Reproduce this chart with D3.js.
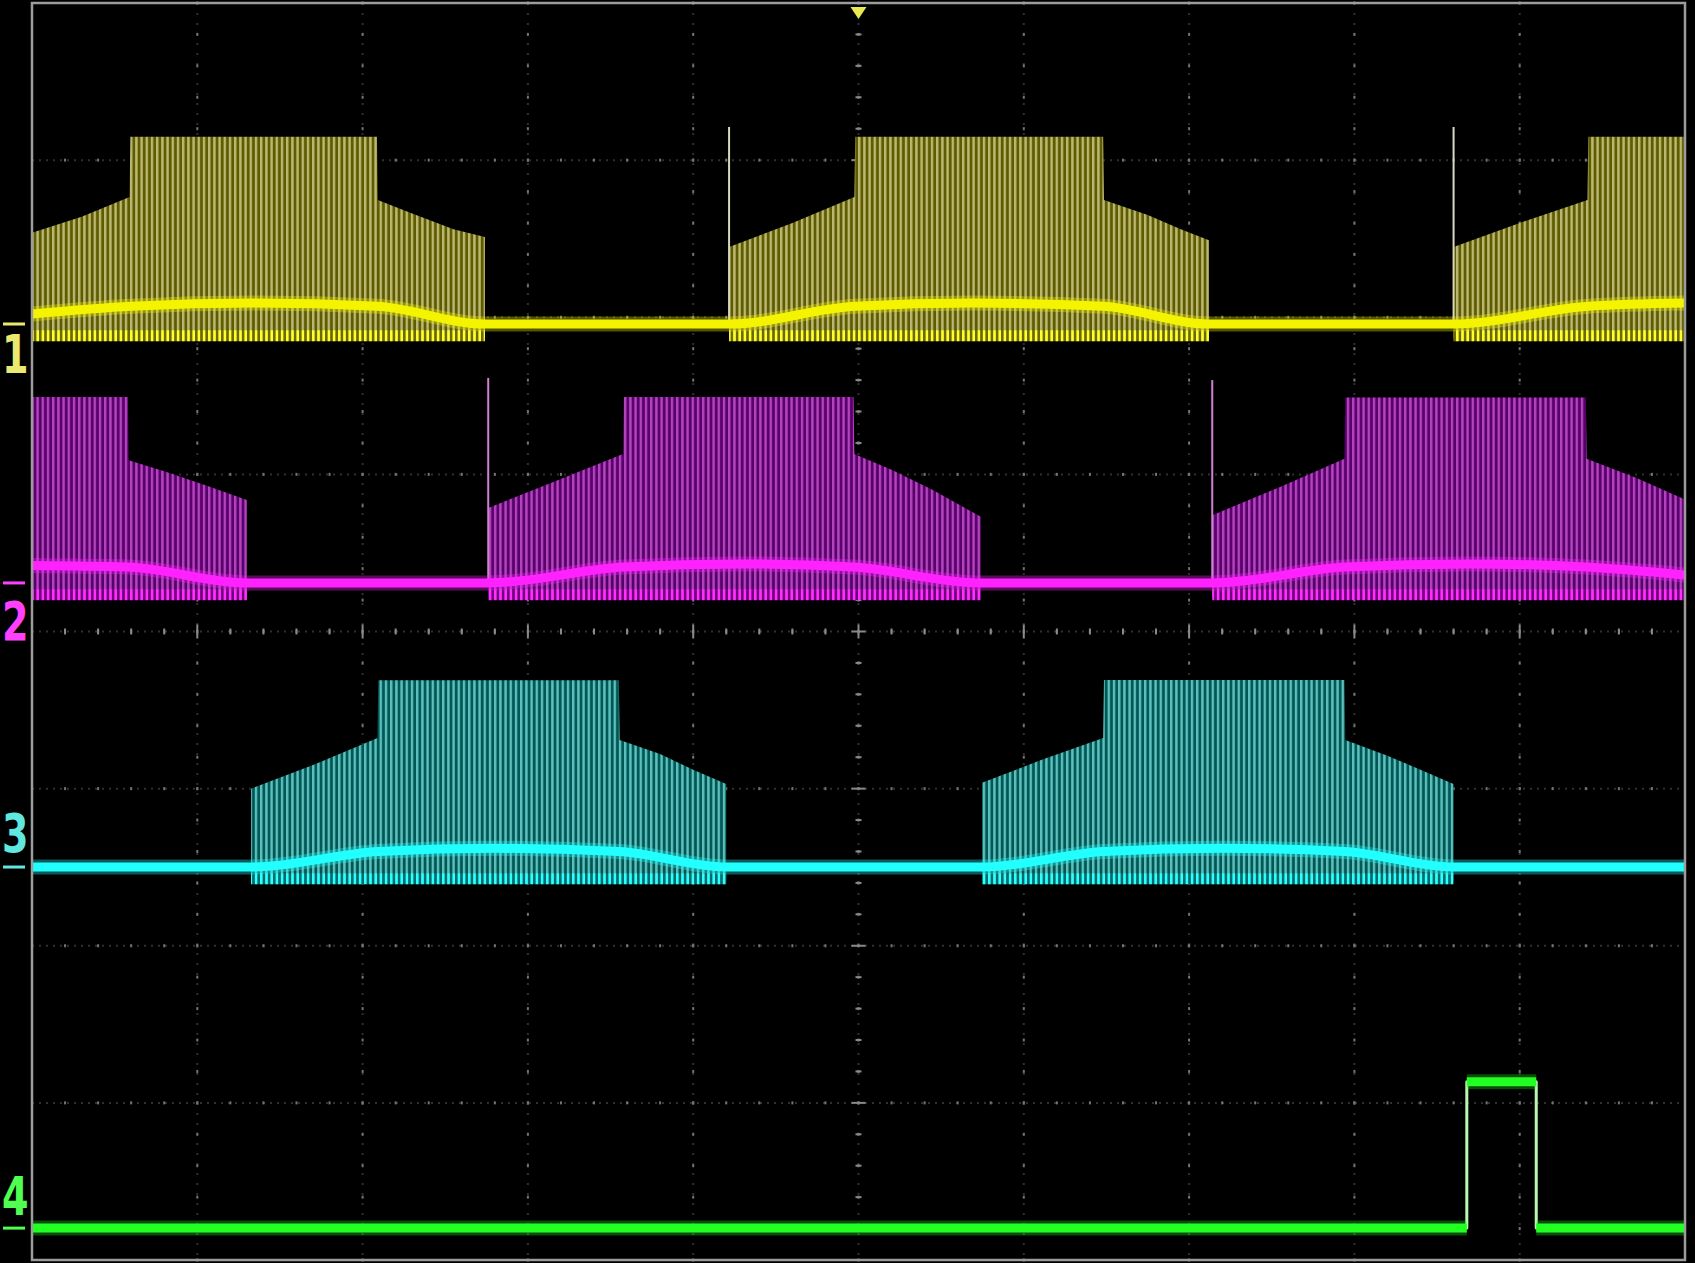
<!DOCTYPE html>
<html>
<head>
<meta charset="utf-8">
<script src="https://cdn.jsdelivr.net/npm/d3@7"></script>
<style>
  html, body { margin: 0; background: #000; overflow: hidden; }
</style>
</head>
<body>
<div id="scope"></div>
<script>
// values in screen divisions: time 0..10, volts -4..4 (0 = centre line)

const ch1Level = 1.957;
const ch1Bursts = [
    [[0, 2.537], [0.30, 2.64], [0.59, 2.766], [0.595, 3.148], [2.087, 3.148], [2.092, 2.747], [2.30, 2.66], [2.55, 2.56], [2.74, 2.511]],
    [[4.217, 2.447], [4.60, 2.60], [4.975, 2.766], [4.98, 3.148], [6.48, 3.148], [6.485, 2.747], [6.75, 2.65], [6.95, 2.56], [7.12, 2.49]],
    [[8.60, 2.447], [9.00, 2.60], [9.41, 2.747], [9.415, 3.148], [10, 3.148]]
];
const ch1Spikes = [[4.217, 3.211], [8.60, 3.211]];
const ch1Trace = [[0, 2.02], [0.6, 2.07], [1.35, 2.09], [2.09, 2.07], [2.74, 1.957], [4.217, 1.957],
    [4.98, 2.07], [5.7, 2.09], [6.48, 2.07], [7.12, 1.957], [8.60, 1.957], [9.415, 2.07], [10, 2.09]];

const ch2Level = 0.309;
const ch2Bursts = [
    [[0, 1.493], [0.58, 1.493], [0.585, 1.09], [0.80, 1.02], [1.05, 0.93], [1.30, 0.837]],
    [[2.76, 0.786], [3.15, 0.95], [3.575, 1.13], [3.58, 1.493], [4.97, 1.493], [4.975, 1.13], [5.20, 1.03], [5.45, 0.90], [5.74, 0.73]],
    [[7.14, 0.74], [7.55, 0.92], [7.94, 1.10], [7.945, 1.49], [9.40, 1.49], [9.405, 1.10], [9.70, 0.98], [10, 0.84]]
];
const ch2Spikes = [[2.76, 1.614], [7.14, 1.60]];
const ch2Trace = [[0, 0.42], [0.58, 0.41], [1.30, 0.309], [2.76, 0.309], [3.58, 0.41], [4.3, 0.43], [4.97, 0.41],
    [5.74, 0.309], [7.14, 0.309], [7.945, 0.41], [8.7, 0.43], [9.40, 0.41], [10, 0.36]];

const ch3Level = -1.499;
const ch3Bursts = [
    [[1.325, -1.0], [1.70, -0.85], [2.09, -0.678], [2.095, -0.31], [3.55, -0.31], [3.555, -0.69], [3.80, -0.78], [4.00, -0.88], [4.20, -0.97]],
    [[5.747, -0.963], [6.10, -0.82], [6.48, -0.678], [6.485, -0.309], [7.94, -0.309], [7.945, -0.69], [8.20, -0.79], [8.40, -0.88], [8.60, -0.97]]
];
const ch3Spikes = [];
const ch3Trace = [[0, -1.499], [1.325, -1.499], [2.095, -1.40], [2.8, -1.38], [3.55, -1.40], [4.20, -1.499],
    [5.747, -1.499], [6.485, -1.40], [7.2, -1.38], [7.94, -1.40], [8.60, -1.499], [10, -1.499]];

const ch4Level = -3.797;
const ch4Trace = [[0, -3.797], [8.68, -3.797], [8.68, -2.865], [9.10, -2.865], [9.10, -3.797], [10, -3.797]];

const channelNames = ['1', '2', '3', '4'];

const W = 1695, H = 1263;
const plot = { left: 32, right: 1685, top: 3, bottom: 1260 };

const x = d3.scaleLinear().domain([0, 10]).range([plot.left, plot.right]);
const y = d3.scaleLinear().domain([-4, 4]).range([plot.bottom, plot.top]);

const svg = d3.select('#scope').append('svg')
    .attr('width', W).attr('height', H)
    .style('display', 'block')
    .style('background', '#000');

const defs = svg.append('defs');
defs.append('clipPath').attr('id', 'screen')
    .append('rect')
    .attr('x', plot.left).attr('y', plot.top)
    .attr('width', plot.right - plot.left).attr('height', plot.bottom - plot.top);

function stripes(id, light, dark, w) {
    const p = defs.append('pattern')
        .attr('id', id)
        .attr('patternUnits', 'userSpaceOnUse')
        .attr('width', 5.2).attr('height', 8);
    p.append('rect').attr('width', 5.2).attr('height', 8).attr('fill', dark);
    p.append('rect').attr('width', w).attr('height', 8).attr('fill', light);
}
stripes('st1', '#bcb874', '#5e5c00', 2.4);
stripes('st1b', '#ffff30', '#6a6a00', 2.6);
stripes('st2', '#b444bc', '#58006c', 2.4);
stripes('st2b', '#ff30ff', '#70007a', 2.6);
stripes('st3', '#5ec0bc', '#005856', 2.4);
stripes('st3b', '#30ffff', '#006a6a', 2.6);

// ---- graticule ----
const grid = svg.append('g');
d3.range(1, 10).forEach(t => {
    grid.append('line')
        .attr('x1', x(t)).attr('x2', x(t))
        .attr('y1', plot.top).attr('y2', plot.bottom)
        .attr('stroke', '#303030').attr('stroke-width', 2)
        .attr('stroke-dasharray', '2 8');
});
d3.range(1, 8).forEach(v => {
    grid.append('line')
        .attr('x1', plot.left).attr('x2', plot.right)
        .attr('y1', y(v - 4)).attr('y2', y(v - 4))
        .attr('stroke', '#303030').attr('stroke-width', 2)
        .attr('stroke-dasharray', '2 5');
});
const dotColor = '#747474';
d3.range(1, 10).forEach(t => {
    d3.range(0, 8.001, 0.2).forEach(v => {
        grid.append('rect')
            .attr('x', x(t) - 1).attr('y', y(v - 4) - 1.5)
            .attr('width', 2).attr('height', 3)
            .attr('fill', dotColor);
    });
});
d3.range(1, 8).forEach(v => {
    d3.range(0, 10.001, 0.2).forEach(t => {
        grid.append('rect')
            .attr('x', x(t) - 1).attr('y', y(v - 4) - 1.5)
            .attr('width', 2).attr('height', 3)
            .attr('fill', dotColor);
    });
});
// centre axes with ticks
d3.range(0, 10.001, 0.2).forEach(t => {
    const major = Math.abs(t - Math.round(t)) < 1e-6;
    grid.append('line')
        .attr('x1', x(t)).attr('x2', x(t))
        .attr('y1', y(0) - (major ? 7 : 3)).attr('y2', y(0) + (major ? 7 : 3))
        .attr('stroke', '#8a8a8a').attr('stroke-width', 2);
});
d3.range(-4, 4.001, 0.2).forEach(v => {
    const major = Math.abs(v - Math.round(v)) < 1e-6;
    grid.append('line')
        .attr('x1', x(5) - (major ? 7 : 3)).attr('x2', x(5) + (major ? 7 : 3))
        .attr('y1', y(v)).attr('y2', y(v))
        .attr('stroke', '#8a8a8a').attr('stroke-width', 2);
});

// ---- traces ----
const traces = svg.append('g').attr('clip-path', 'url(#screen)');

const channels = [
    { level: ch1Level, bursts: ch1Bursts, spikes: ch1Spikes, trace: ch1Trace, pat: 'st1', patB: 'st1b', color: '#f4f400', spike: '#d8d8c0' },
    { level: ch2Level, bursts: ch2Bursts, spikes: ch2Spikes, trace: ch2Trace, pat: 'st2', patB: 'st2b', color: '#ff22ff', spike: '#d080d0' },
    { level: ch3Level, bursts: ch3Bursts, spikes: ch3Spikes, trace: ch3Trace, pat: 'st3', patB: 'st3b', color: '#22ffff', spike: '#a0e0e0' }
];

const smooth = d3.line()
    .x(d => x(d[0]))
    .y(d => y(d[1]))
    .curve(d3.curveMonotoneX);

channels.forEach(c => {
    const g = traces.append('g');
    const env = d3.area()
        .x(d => x(d[0]))
        .y0(y(c.level - 0.09))
        .y1(d => y(d[1]));

    // pulse train under each envelope
    g.selectAll('.burst')
        .data(c.bursts)
        .join('path')
        .attr('class', 'burst')
        .attr('d', env)
        .attr('fill', `url(#${c.pat})`);

    // bright band at the pulse bottoms
    g.selectAll('.floor')
        .data(c.bursts)
        .join('rect')
        .attr('class', 'floor')
        .attr('x', d => x(d[0][0]))
        .attr('width', d => x(d[d.length - 1][0]) - x(d[0][0]))
        .attr('y', y(c.level - 0.04))
        .attr('height', y(c.level - 0.11) - y(c.level - 0.04))
        .attr('fill', `url(#${c.patB})`);

    g.selectAll('.spike')
        .data(c.spikes)
        .join('line')
        .attr('class', 'spike')
        .attr('x1', d => x(d[0])).attr('x2', d => x(d[0]))
        .attr('y1', y(c.level)).attr('y2', d => y(d[1]))
        .attr('stroke', c.spike).attr('stroke-width', 2);

    g.append('path')
        .attr('d', smooth(c.trace))
        .attr('fill', 'none')
        .attr('stroke', c.color)
        .attr('stroke-opacity', 0.35)
        .attr('stroke-width', 15);
    g.append('path')
        .attr('d', smooth(c.trace))
        .attr('fill', 'none')
        .attr('stroke', c.color)
        .attr('stroke-width', 9);
});

// channel 4: digital step
const ch4 = traces.append('g');
const straight = d3.line().x(d => x(d[0])).y(d => y(d[1]));
ch4.append('path')
    .attr('d', straight(ch4Trace))
    .attr('fill', 'none')
    .attr('stroke', '#b8f8b0')
    .attr('stroke-width', 3)
    .attr('stroke-linejoin', 'round');
const flats = d3.pairs(ch4Trace).filter(([a, b]) => a[1] === b[1]);
ch4.selectAll('.glow')
    .data(flats)
    .join('line')
    .attr('class', 'glow')
    .attr('x1', d => x(d[0][0])).attr('x2', d => x(d[1][0]))
    .attr('y1', d => y(d[0][1])).attr('y2', d => y(d[1][1]))
    .attr('stroke', '#22ff22')
    .attr('stroke-opacity', 0.3)
    .attr('stroke-width', 15);
ch4.selectAll('.flat')
    .data(flats)
    .join('line')
    .attr('class', 'flat')
    .attr('x1', d => x(d[0][0])).attr('x2', d => x(d[1][0]))
    .attr('y1', d => y(d[0][1])).attr('y2', d => y(d[1][1]))
    .attr('stroke', '#22ff22')
    .attr('stroke-width', 9);

// frame
svg.append('rect')
    .attr('x', plot.left).attr('y', plot.top)
    .attr('width', plot.right - plot.left).attr('height', plot.bottom - plot.top)
    .attr('fill', 'none')
    .attr('stroke', '#9c9c9c')
    .attr('stroke-width', 2.5);

// trigger position marker
svg.append('path')
    .attr('d', `M${x(5) - 8},${plot.top + 4} L${x(5) + 8},${plot.top + 4} L${x(5)},${plot.top + 16} Z`)
    .attr('fill', '#e8e850');

// channel ground markers and numbers
const levels = [ch1Level, ch2Level, ch3Level, ch4Level];
const labelColors = ['#eaea70', '#ff40ff', '#60e8e0', '#50ff50'];
const labelOffsets = [49, 57, -15, -13];
const markers = svg.append('g');
levels.forEach((lv, i) => {
    markers.append('rect')
        .attr('x', 3).attr('y', y(lv) - 1.5)
        .attr('width', 22).attr('height', 3)
        .attr('fill', labelColors[i]);
    markers.append('text')
        .attr('transform', `translate(2, ${y(lv) + labelOffsets[i]}) scale(0.72, 1)`)
        .attr('font-family', 'DejaVu Sans')
        .attr('font-weight', 'bold')
        .attr('font-size', 53)
        .attr('fill', labelColors[i])
        .text(channelNames[i]);
});
</script>
</body>
</html>
